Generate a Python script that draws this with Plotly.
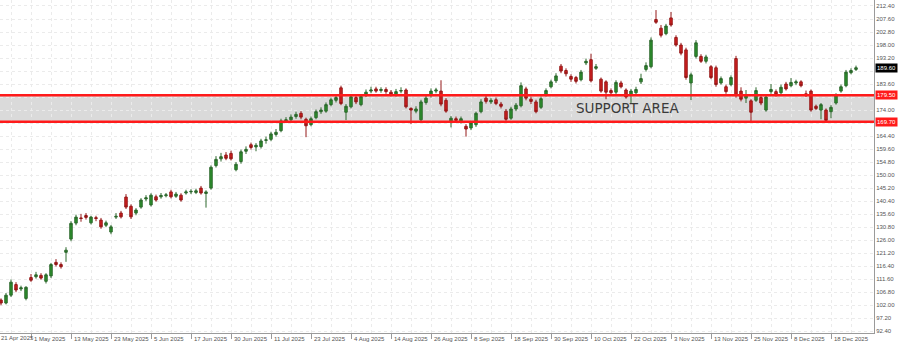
import numpy as np
import plotly.graph_objects as go

# ---------------- data ----------------
start_date = "2025-04-23"
end_date = "2025-12-26"
holidays = ["2025-05-26", "2025-06-19", "2025-07-04", "2025-09-01", "2025-11-27", "2025-12-25"]

opens = [103.9,102.8,105.7,109.6,108.0,104.5,112.2,112.5,113.0,110.8,112.8,117.8,117.0,121.5,126.4,132.3,134.2,135.1,132.4,134.3,
         133.4,131.5,129.0,134.5,136.0,141.9,138.5,136.0,138.2,141.2,139.0,142.0,142.0,142.4,143.8,142.2,142.6,143.4,143.8,143.6,
         145.2,143.2,145.2,153.5,156.0,157.4,158.0,152.0,155.0,158.8,161.2,160.4,160.5,162.8,163.2,165.0,166.4,170.0,170.4,171.6,
         172.8,170.6,168.6,171.2,173.4,173.6,176.0,177.6,182.2,173.2,175.2,178.6,176.0,179.4,181.0,181.8,181.2,181.6,180.6,179.6,
         181.0,181.4,174.6,173.6,170.4,176.8,179.4,181.0,181.0,177.6,169.8,170.8,169.8,168.0,167.4,168.6,173.4,178.4,177.0,177.8,
         176.2,173.6,171.0,174.4,175.6,181.8,178.0,177.0,175.0,179.6,182.6,184.8,190.2,188.6,186.4,186.0,185.2,191.4,192.6,189.4,
         185.4,184.4,181.2,180.6,184.0,181.4,179.4,180.4,184.4,189.0,190.0,207.4,204.2,202.2,208.0,200.8,198.0,196.2,184.0,193.8,
         193.8,192.0,190.0,189.6,184.0,182.6,183.4,193.0,181.0,178.4,177.4,177.6,178.6,174.0,180.8,180.8,180.4,183.6,183.0,184.0,
         184.4,180.0,181.0,175.4,174.0,174.0,173.4,176.6,181.0,183.0,187.8,189.0]
highs = [104.5,106.5,111.5,110.5,109.2,109.0,113.5,114.3,113.8,113.8,117.6,119.0,117.8,123.4,133.0,135.4,135.7,136.0,135.0,135.0,
         134.2,133.2,131.6,136.0,136.8,143.0,139.2,137.8,141.5,142.6,143.3,142.8,143.4,143.4,144.6,143.8,143.3,144.6,144.8,145.0,
         146.0,144.4,153.6,157.0,158.2,158.5,159.0,154.8,159.4,160.6,162.0,161.8,163.4,164.2,166.0,167.0,170.8,171.4,172.4,173.4,
         173.6,171.2,171.6,174.2,175.0,176.8,178.6,179.6,183.0,176.2,179.6,179.4,179.8,181.6,182.6,182.6,182.4,182.4,181.4,181.8,
         182.4,182.0,175.0,175.4,177.8,179.4,182.0,182.2,185.0,178.4,171.8,171.6,171.6,168.8,170.0,173.4,178.0,179.2,178.4,178.6,
         177.0,174.4,175.2,176.6,184.2,182.6,179.0,177.8,179.0,182.0,185.2,187.6,191.0,189.4,187.2,186.6,188.8,193.0,194.8,191.0,
         186.0,185.0,182.0,185.0,184.8,182.0,181.8,182.6,187.4,191.6,200.8,210.9,205.4,205.8,210.2,201.6,198.8,197.0,187.8,199.8,
         194.6,194.4,190.6,190.4,186.4,183.4,186.8,194.0,182.4,181.4,178.0,182.4,179.4,179.6,183.6,181.6,183.4,184.4,185.8,185.2,
         185.0,181.2,181.6,176.0,176.6,174.6,175.8,180.2,183.4,188.8,189.4,190.4]
lows = [102.0,102.3,105.0,106.8,107.2,103.8,110.6,111.8,111.4,110.0,112.0,116.3,115.5,118.0,125.6,131.5,132.8,133.6,131.8,133.0,
        130.2,130.8,128.2,133.8,134.0,137.5,133.8,135.2,137.6,140.4,138.4,140.2,141.3,141.8,141.4,141.6,140.2,142.8,143.0,143.0,
        142.8,138.0,144.6,152.8,155.0,155.5,155.4,151.4,154.2,157.8,159.4,158.8,159.8,161.6,162.5,164.2,165.8,169.2,169.8,170.8,
        170.6,164.0,168.0,170.6,172.6,173.0,175.4,176.8,175.8,170.3,174.6,176.2,175.4,178.8,180.2,180.4,180.4,180.0,179.0,179.0,
        180.2,174.6,168.8,172.8,169.8,176.0,178.6,180.2,175.4,173.0,167.6,169.4,169.0,164.2,166.6,167.8,172.8,176.4,176.2,175.8,
        174.6,170.0,170.4,173.6,175.0,177.6,176.2,172.8,174.4,179.0,182.0,184.0,187.6,186.4,184.4,183.8,184.6,190.6,184.2,188.8,
        180.4,178.0,179.6,179.8,182.0,178.2,176.6,179.6,183.6,188.2,189.4,205.8,200.8,201.6,204.8,197.4,194.2,185.2,177.7,193.0,
        191.4,191.2,185.4,182.6,183.4,180.0,182.8,178.6,177.2,176.6,169.4,177.0,175.8,173.4,180.0,179.0,179.8,181.2,182.4,183.2,
        182.4,178.8,173.4,174.0,170.6,169.6,171.0,176.0,180.4,182.4,187.2,188.4]
closes = [102.8,105.7,110.5,107.6,108.4,108.6,111.2,113.2,112.0,113.2,117.0,117.0,116.2,122.3,132.2,134.5,134.0,134.4,134.5,134.0,
          130.9,132.4,130.9,134.8,134.6,138.2,134.6,137.1,140.8,141.6,142.6,140.8,142.5,142.7,142.0,143.0,140.8,143.8,144.0,144.2,
          143.4,143.8,152.9,155.8,156.8,156.2,156.0,154.0,158.6,159.5,160.2,161.0,162.6,163.0,165.2,165.8,170.0,170.4,171.4,172.4,
          171.4,168.2,170.8,173.4,174.0,176.0,177.8,178.6,176.4,175.4,178.9,177.0,179.0,180.6,181.4,181.0,181.6,180.8,179.8,180.8,
          181.2,175.2,174.0,174.4,177.0,178.4,181.0,181.4,176.2,173.6,171.0,170.2,170.8,167.0,169.2,172.8,177.0,177.2,177.6,176.4,
          175.4,170.6,174.4,175.8,183.0,178.4,177.2,173.4,178.2,181.2,184.4,186.6,188.4,187.4,185.4,184.6,188.0,192.0,184.8,190.0,
          181.0,180.6,180.4,184.2,182.6,178.8,181.0,181.6,185.6,190.4,199.8,206.4,201.6,205.0,205.4,198.0,195.0,186.0,187.0,198.8,
          192.0,193.6,186.0,183.4,185.6,180.8,186.0,179.4,178.0,179.4,173.2,181.2,176.6,178.8,181.6,179.6,182.4,181.8,184.2,184.4,
          183.0,179.6,174.0,174.6,176.0,170.2,175.0,179.6,182.6,188.0,188.6,189.6]

label_dates = ["2025-04-21", "2025-05-01", "2025-05-13", "2025-05-23", "2025-06-05", "2025-06-17", "2025-06-30",
               "2025-07-11", "2025-07-23", "2025-08-04", "2025-08-14", "2025-08-26", "2025-09-08", "2025-09-18",
               "2025-09-30", "2025-10-10", "2025-10-22", "2025-11-03", "2025-11-13", "2025-11-25", "2025-12-08",
               "2025-12-18"]
label_texts = ["21 Apr 2025", "1 May 2025", "13 May 2025", "23 May 2025", "5 Jun 2025", "17 Jun 2025", "30 Jun 2025",
               "11 Jul 2025", "23 Jul 2025", "4 Aug 2025", "14 Aug 2025", "26 Aug 2025", "8 Sep 2025", "18 Sep 2025",
               "30 Sep 2025", "10 Oct 2025", "22 Oct 2025", "3 Nov 2025", "13 Nov 2025", "25 Nov 2025", "8 Dec 2025",
               "18 Dec 2025"]

y_tick_values = [212.40, 207.60, 202.80, 198.00, 193.20, 188.40, 183.60, 178.80, 174.00, 169.20, 164.40, 159.60,
                 154.80, 150.00, 145.20, 140.40, 135.60, 130.80, 126.00, 121.20, 116.40, 111.60, 106.80, 102.00,
                 97.20, 92.40]

support_top = 179.50
support_bottom = 169.70
last_price = 189.60
support_text = "SUPPORT AREA"

# --------------- build ---------------
X_RANGE = [-0.2, 174.6]
Y_RANGE = [91.74, 214.61]

dates = np.arange(np.datetime64(start_date), np.datetime64(end_date) + 1)
dates = [d for d in dates if np.is_busday(d, holidays=holidays)]
assert len(dates) == len(closes)
x_pos = [int(np.busday_count(start_date, d, holidays=holidays)) for d in dates]
label_pos = [int(np.busday_count(start_date, d, holidays=holidays)) for d in label_dates]
grid_pos = [p + 4 for p in label_pos]
hover_dates = [str(d) for d in dates]

# labels hidden behind the price boxes in the reference
covered = []
for v in y_tick_values:
    hidden = any(abs(v - lvl) < 1.5 for lvl in (support_top, support_bottom, last_price))
    covered.append("" if hidden else "%.2f" % v)

fig = go.Figure()
fig.add_trace(go.Candlestick(
    x=x_pos, open=opens, high=highs, low=lows, close=closes,
    text=hover_dates,
    increasing=dict(line=dict(color="#2d682d", width=1), fillcolor="#2a8f2a"),
    decreasing=dict(line=dict(color="#941818", width=1), fillcolor="#d01f1f"),
    whiskerwidth=0, showlegend=False,
))

grid_col = "#ebebeb"
fig.update_layout(
    width=900, height=343,
    margin=dict(l=0, r=26, t=0, b=10),
    paper_bgcolor="white", plot_bgcolor="white",
    font=dict(family="Liberation Sans, Arial, sans-serif", size=6, color="#555555"),
    xaxis=dict(
        range=X_RANGE, rangeslider=dict(visible=False),
        tickmode="array", tickvals=label_pos, showticklabels=False,
        ticks="outside", ticklen=5, tickcolor="#9a9a9a",
        showgrid=True, gridcolor=grid_col, griddash="dot", gridwidth=1,
        minor=dict(tickmode="array", tickvals=grid_pos, showgrid=True, gridcolor=grid_col, griddash="dot", ticks=""),
        showline=True, linecolor="#9a9a9a", linewidth=1, zeroline=False, fixedrange=True,
    ),
    yaxis=dict(
        side="right", range=Y_RANGE,
        tickmode="array", tickvals=y_tick_values, ticktext=covered,
        ticks="", showgrid=True, gridcolor=grid_col, griddash="dot",
        showline=True, linecolor="#9a9a9a", linewidth=1, zeroline=False,
        tickfont=dict(size=6, color="#555555"),
    ),
)

# support area
fig.add_shape(type="rect", xref="paper", yref="y", x0=0, x1=1, y0=support_bottom, y1=support_top,
              fillcolor="#dadada", line=dict(width=0), layer="below")
for lvl in (support_top, support_bottom):
    fig.add_shape(type="line", xref="paper", yref="y", x0=0, x1=1, y0=lvl, y1=lvl,
                  line=dict(color="#ff1a1a", width=2.5), layer="above")
    fig.add_annotation(xref="paper", yref="y", x=1, y=lvl, xanchor="left", yanchor="middle",
                       text="%.2f" % lvl, showarrow=False, bgcolor="#ff1a1a",
                       font=dict(size=6, color="white"), borderpad=1, xshift=1)

fig.add_annotation(xref="paper", yref="y", x=1, y=last_price, xanchor="left", yanchor="middle",
                   text="%.2f" % last_price, showarrow=False, bgcolor="#000000",
                   font=dict(size=6, color="white"), borderpad=1, xshift=1)

fig.add_annotation(xref="x", yref="y", x=125.2, y=(support_top + support_bottom) / 2,
                   text=support_text, showarrow=False,
                   font=dict(family="DejaVu Sans, sans-serif", size=13.5, color="#3a3a3a"))

# x tick labels (left-aligned just after each tick), placed in paper units;
# a label whose tick lies left of the plot is pinned to the left edge
span = X_RANGE[1] - X_RANGE[0]
for p, t in zip(label_pos, label_texts):
    px = max((p - X_RANGE[0]) / span, 0.0)
    fig.add_annotation(xref="paper", yref="paper", x=px, y=0,
                       xanchor="left", yanchor="top",
                       text=t, showarrow=False, xshift=0 if px == 0 else 1, yshift=-1,
                       borderpad=0 if px == 0 else 1,
                       font=dict(size=6, color="#555555"))

fig.write_html("out.html")
